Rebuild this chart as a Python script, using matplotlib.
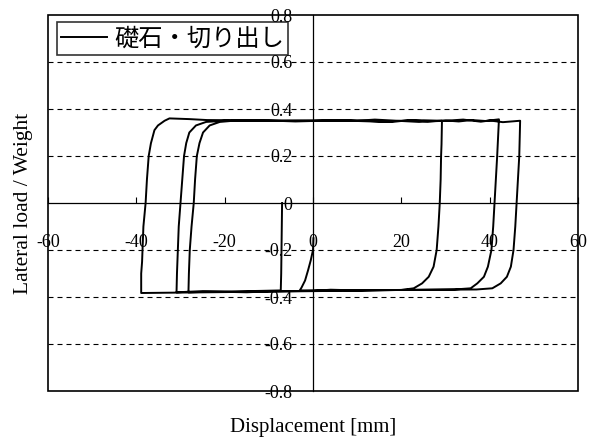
import matplotlib
matplotlib.use("Agg")
import matplotlib.pyplot as plt
from matplotlib.patches import Rectangle

plt.rcParams['axes.unicode_minus'] = False
plt.rcParams['font.family'] = ['Liberation Serif', 'DejaVu Serif']

# Axis ticks and labels
x_ticks = [-60, -40, -20, 0, 20, 40, 60]
x_tick_labels = ['-60', '-40', '-20', '0', '20', '40', '60']
y_ticks = [-0.8, -0.6, -0.4, -0.2, 0.0, 0.2, 0.4, 0.6, 0.8]
y_tick_labels = ['-0.8', '-0.6', '-0.4', '-0.2', '0', '0.2', '0.4', '0.6', '0.8']
grid_levels = [-0.6, -0.4, -0.2, 0.2, 0.4, 0.6]

series_label = '礎石・切り出し'

# Hysteresis record: displacement [mm] and lateral load / weight, in loading order
disp = [
    # initial push to the left
    -7.0, -7.1, -7.2, -7.3,
    -12.0, -18.0, -24.0, -28.2,
    # reversal at about -28 mm
    -28.1, -27.9, -27.5, -27.0, -26.7, -26.3, -25.7, -24.9, -23.4, -21.1, -18.0,
    -10.0, -4.0, 0.0, 6.0, 10.0, 15.0, 20.0, 25.0, 29.2,
    # reversal at about +29 mm
    29.1, 29.0, 28.9, 28.7, 28.4, 28.0, 27.3, 26.2, 24.7, 22.8, 20.0,
    10.0, 4.0, 0.0, -10.0, -15.0, -20.0, -25.0, -30.9,
    # reversal at about -31 mm
    -30.8, -30.6, -30.4, -30.0, -29.6, -29.2, -28.7, -28.0, -26.5, -24.2, -20.0,
    -10.0, 0.0, 10.0, 14.0, 20.0, 24.0, 30.0, 33.0, 36.0, 39.0, 42.1,
    # reversal at about +42 mm
    41.9, 41.7, 41.4, 41.1, 40.8, 40.4, 39.6, 38.7, 37.2, 35.7, 32.0,
    20.0, 10.0, 0.0, -10.0, -20.0, -30.0, -38.9,
    # reversal at about -39 mm
    -38.9, -38.7, -38.6, -38.4, -37.9, -37.6, -37.2, -36.7, -35.9, -35.1, -33.6,
    -32.5, -28.0, -24.0,
    -10.0, 0.0, 10.0, 18.0, 22.0, 26.0, 30.0, 34.0, 38.0, 40.0, 43.0, 46.9,
    # reversal at about +47 mm
    46.8, 46.7, 46.4, 46.1, 45.8, 45.4, 44.8, 43.9, 42.5, 40.6, 37.0,
    30.0, 20.0, 10.0, 0.0, -3.0,
    # return towards the origin
    -2.6, -1.8, -1.1, -0.5, 0.0, 0.1,
]
load = [
    0.0, -0.15, -0.30, -0.372,
    -0.374, -0.376, -0.378, -0.380,
    -0.30, -0.20, -0.10, 0.0, 0.10, 0.20, 0.255, 0.30, 0.33, 0.345, 0.350,
    0.351, 0.347, 0.349, 0.353, 0.349, 0.346, 0.350, 0.352, 0.350,
    0.25, 0.20, 0.10, 0.0, -0.10, -0.20, -0.271, -0.314, -0.342, -0.363, -0.370,
    -0.372, -0.369, -0.374, -0.376, -0.380, -0.378, -0.375, -0.380,
    -0.30, -0.20, -0.10, 0.0, 0.10, 0.20, 0.255, 0.30, 0.33, 0.345, 0.350,
    0.349, 0.351, 0.350, 0.355, 0.349, 0.345, 0.351, 0.347, 0.353, 0.349, 0.356,
    0.28, 0.20, 0.10, 0.0, -0.10, -0.20, -0.271, -0.314, -0.342, -0.363, -0.368,
    -0.370, -0.373, -0.375, -0.377, -0.379, -0.381, -0.383,
    -0.30, -0.25, -0.20, -0.10, 0.0, 0.10, 0.20, 0.254, 0.31, 0.33, 0.35,
    0.360, 0.357, 0.353,
    0.351, 0.350, 0.351, 0.345, 0.353, 0.347, 0.350, 0.355, 0.346, 0.351, 0.344, 0.350,
    0.28, 0.20, 0.10, 0.0, -0.10, -0.20, -0.271, -0.314, -0.342, -0.363, -0.368,
    -0.369, -0.370, -0.371, -0.372, -0.372,
    -0.36, -0.33, -0.285, -0.243, -0.20, -0.15,
]

fig = plt.figure(figsize=(5.89, 4.41), dpi=100)
ax = fig.add_axes([48 / 589, 50 / 441, 530 / 589, 376 / 441])
ax.set_xlim(-60, 60)
ax.set_ylim(-0.8, 0.8)

# Dashed reference levels
for level in grid_levels:
    ax.axhline(level, color='black', lw=0.8, linestyle=(0, (4.5, 3.6)), zorder=1)

ax.plot(disp, load, color='black', lw=1.4, zorder=3, label=series_label)

# Axes cross at the origin, surrounded by a full frame
ax.spines['left'].set_position(('data', 0))
ax.spines['bottom'].set_position(('data', 0))
for side in ('left', 'bottom'):
    ax.spines[side].set_linewidth(0.9)
for side in ('top', 'right'):
    ax.spines[side].set_visible(False)
ax.add_patch(Rectangle((0, 0), 1, 1, transform=ax.transAxes, fill=False,
                       edgecolor='black', lw=1.2, zorder=4, clip_on=False))

ax.set_xticks(x_ticks)
ax.set_xticklabels(x_tick_labels)
ax.set_yticks(y_ticks)
ax.set_yticklabels(y_tick_labels)
ax.tick_params(axis='x', direction='in', length=4, width=0.8, pad=22, labelsize=13)
ax.tick_params(axis='y', direction='in', length=0, width=0.8, pad=15, labelsize=13)

ax.set_xlabel('Displacement [mm]', fontsize=15)
ax.xaxis.label.set_va('center')
ax.xaxis.set_label_coords(0.5, -0.098)
ax.set_ylabel('Lateral load / Weight', fontsize=15.5)
ax.yaxis.label.set_va('center')
ax.yaxis.set_label_coords(-0.047, 0.5)

leg = ax.legend(loc='upper left', bbox_to_anchor=(0.017, 0.981), borderaxespad=0,
                prop={'family': ['Noto Sans CJK JP', 'DejaVu Sans'], 'size': 17.5},
                frameon=True, fancybox=False, borderpad=0.15,
                handlelength=1.9, handletextpad=0.3)
leg.get_frame().set_edgecolor('black')
leg.get_frame().set_linewidth(1.2)
leg.set_zorder(5)

fig.savefig('out.png', dpi=100)
